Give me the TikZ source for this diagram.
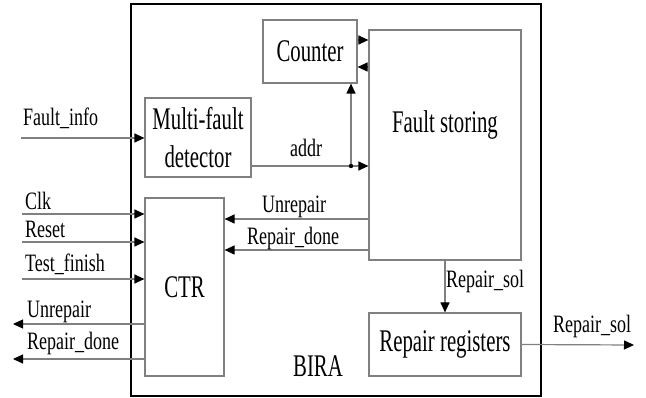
\documentclass[tikz,border=0pt]{standalone}
\usepackage{fontspec}
\setmainfont{Liberation Serif}[FakeStretch=0.72]
\newfontfamily\blockfamily{Liberation Serif}[FakeStretch=0.66]
\usepackage{tikz}
\usetikzlibrary{arrows.meta, positioning, calc}
\newcommand{\boxfont}{\blockfamily\fontsize{31.5}{38}\selectfont}
\newcommand{\sigfont}{\fontsize{25}{28}\selectfont}

\begin{document}
\begin{tikzpicture}[
  x=1pt, y=-1pt,
  every node/.style={inner sep=0pt},
  block/.style={rectangle, draw=black!50, line width=1.2pt, fill=white, align=center, font=\boxfont},
  sig/.style={anchor=base west, font=\sigfont},
  wire/.style={draw=black!50, line width=1.2pt},
  arrow/.style={wire, -{Triangle[length=10pt, width=9pt, color=black]}}
]
\useasboundingbox (0,0) rectangle (646,398);

% BIRA frame
\node[rectangle, draw=black, line width=2.4pt, minimum width=410, minimum height=392] (bira) at (336,200) {};
\node[anchor=base west, font=\boxfont] (biralbl) at (293,377) {BIRA};

% Blocks
\node[block, minimum width=94, minimum height=63] (cnt) at (310,51.5) {Counter};
\node[block, minimum width=152, minimum height=230,
      label={[font=\boxfont, yshift=20pt]center:Fault storing}] (fs) at (445,145) {};
\node[block, minimum width=106, minimum height=79] (mfd) at (198,137.5) {Multi-fault\\detector};
\node[block, minimum width=79, minimum height=178] (ctr) at (184.5,287) {CTR};
\node[block, minimum width=152, minimum height=63] (rr) at (445,344.5) {Repair registers};

% Free ends
\coordinate (fi) at (21,138);
\coordinate (clk) at (22,214);
\coordinate (rst) at (22,242);
\coordinate (tf) at (22,279);
\coordinate (unr) at (13,324);
\coordinate (rdo) at (13,359);
\coordinate (rso) at (634,345);
\coordinate (j) at (351,166);

% Inputs
\draw[arrow] (fi) -- (fi -| mfd.west);
\draw[arrow] (clk) -- (clk -| ctr.west);
\draw[arrow] (rst) -- (rst -| ctr.west);
\draw[arrow] (tf) -- (tf -| ctr.west);
\node[sig] (lfi) at (23,126) {Fault\_info};
\node[sig] (lclk) at (25,210) {Clk};
\node[sig] (lrst) at (25,238) {Reset};
\node[sig] (ltf) at (25,272) {Test\_finish};

% Outputs of CTR
\draw[arrow] (ctr.west |- unr) -- (unr);
\draw[arrow] (ctr.west |- rdo) -- (rdo);
\node[sig] (lunr) at (27,318) {Unrepair};
\node[sig] (lrdo) at (27,350) {Repair\_done};

% addr bus
\draw[wire] (j -| mfd.east) -- (j);
\draw[arrow] (j) -- (j -| fs.west);
\draw[arrow] (j) -- (j |- cnt.south);
\fill (j) circle (2.2pt);
\node[sig] (laddr) at (290,157) {addr};

% Counter <-> Fault storing
\draw[arrow] (cnt.east |- 0,40) -- (fs.west |- 0,40);
\draw[arrow] (fs.west |- 0,67) -- (cnt.east |- 0,67);

% Fault storing -> CTR
\draw[arrow] (fs.west |- 0,219) -- (ctr.east |- 0,219);
\draw[arrow] (fs.west |- 0,250) -- (ctr.east |- 0,250);
\node[sig] (liunr) at (262,213) {Unrepair};
\node[sig] (lirdo) at (247,245) {Repair\_done};

% Repair solution
\draw[arrow] (fs.south) -- (rr.north);
\node[sig] (lrs) at (446,288) {Repair\_sol};
\draw[arrow] (rr.east) -- (rso);
\node[sig] (lrso) at (553,333) {Repair\_sol};

\end{tikzpicture}
\end{document}
